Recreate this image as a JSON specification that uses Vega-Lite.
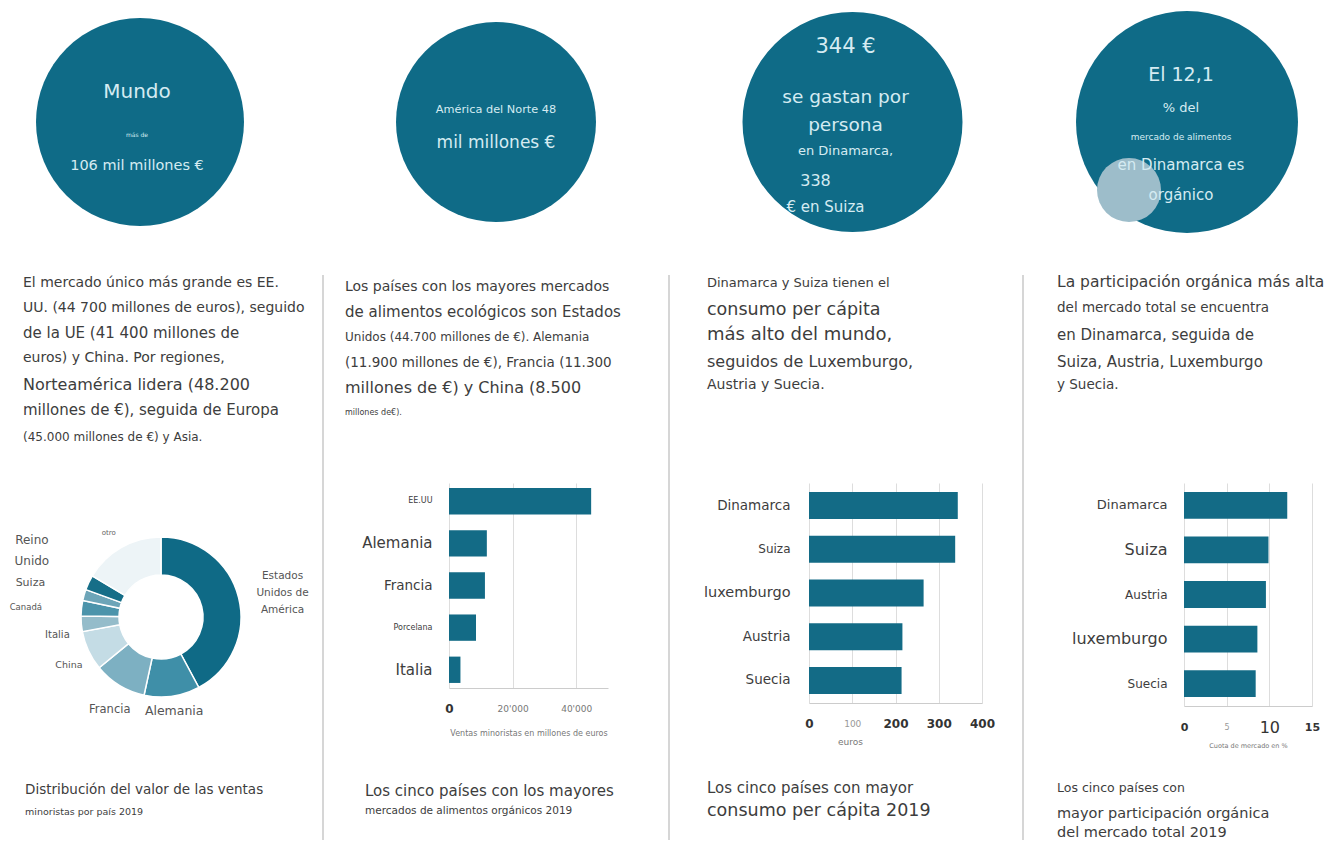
{
"$schema": "https://vega.github.io/schema/vega-lite/v6.json",
"background": "white",
"padding": 0,
"spacing": 0,
"config": {
  "view": {"stroke": null},
  "font": "DejaVu Sans",
  "text": {"font": "DejaVu Sans"},
  "axis": {"labelFont": "DejaVu Sans", "titleFont": "DejaVu Sans"},
  "title": {"font": "DejaVu Sans", "subtitleFont": "DejaVu Sans", "fontWeight": "normal", "subtitleFontWeight": "normal", "color": "#3d3d3d", "subtitleColor": "#3d3d3d"}
},
"hconcat": [
 {
  "spacing": 0, "bounds": "flush",
  "vconcat": [
   {
    "width": 280, "height": 244,
    "layer": [
     {"data": {"values": [{"region": "Mundo"}]},
      "mark": {"type": "point", "shape": "circle", "filled": true, "opacity": 1, "color": "#0f6b87", "size": 43264, "strokeWidth": 0}},
     {"data": {"values": [{"line": 1, "text": "Mundo"}, {"line": 2, "text": "más de"}, {"line": 3, "text": "106 mil millones €"}]},
      "mark": {"type": "text", "align": "center", "baseline": "middle", "color": "#d5ebf2", "dx": -3},
      "encoding": {
        "y": {"field": "line", "type": "quantitative", "scale": {"domain": [1, 2, 3], "range": [92, 135, 166]}, "axis": null},
        "text": {"field": "text", "type": "nominal"},
        "size": {"condition": [{"test": "datum.line === 1", "value": 20}, {"test": "datum.line === 2", "value": 6}], "value": 14.5}}}
    ]
   },
   {
    "width": 46, "height": 239,
    "data": {"values": [
      {"line": 1, "text": "El mercado único más grande es EE."},
      {"line": 2, "text": "UU. (44 700 millones de euros), seguido"},
      {"line": 3, "text": "de la UE (41 400 millones de"},
      {"line": 4, "text": "euros) y China. Por regiones,"},
      {"line": 5, "text": "Norteamérica lidera (48.200"},
      {"line": 6, "text": "millones de €), seguida de Europa"},
      {"line": 7, "text": "(45.000 millones de €) y Asia."}]},
    "mark": {"type": "text", "align": "left", "baseline": "middle", "color": "#3d3d3d"},
    "encoding": {
      "y": {"field": "line", "type": "quantitative", "scale": {"domain": [1, 2, 3, 4, 5, 6, 7], "range": [39, 64, 89, 114, 141, 166, 193]}, "axis": null},
      "text": {"field": "text", "type": "nominal"},
      "size": {"condition": [{"test": "datum.line === 3 || datum.line === 6", "value": 15}, {"test": "datum.line === 5", "value": 16}, {"test": "datum.line === 7", "value": 12}], "value": 14}}
   },
   {
    "width": 322, "height": 268,
    "title": {"text": "Distribución del valor de las ventas", "subtitle": "minoristas por país 2019", "orient": "bottom", "anchor": "start", "frame": "group", "dx": 25, "offset": 17, "fontSize": 13.5, "subtitleFontSize": 9.5, "subtitlePadding": 11},
    "data": {"values": [
      {"pais": "Estados Unidos de América", "etiqueta": "Estados\nUnidos de\nAmérica", "valor": 44.7, "orden": 1},
      {"pais": "Alemania", "etiqueta": "Alemania", "valor": 11.9, "orden": 2},
      {"pais": "Francia", "etiqueta": "Francia", "valor": 11.3, "orden": 3},
      {"pais": "China", "etiqueta": "China", "valor": 8.5, "orden": 4},
      {"pais": "Italia", "etiqueta": "Italia", "valor": 3.3, "orden": 5},
      {"pais": "Canadá", "etiqueta": "Canadá", "valor": 3.3, "orden": 6},
      {"pais": "Suiza", "etiqueta": "Suiza", "valor": 2.4, "orden": 7},
      {"pais": "Reino Unido", "etiqueta": "Reino\nUnido", "valor": 3.2, "orden": 8},
      {"pais": "otro", "etiqueta": "otro", "valor": 17.4, "orden": 9}]},
    "encoding": {
      "theta": {"field": "valor", "type": "quantitative", "stack": true},
      "order": {"field": "orden", "type": "quantitative"}},
    "layer": [
     {"mark": {"type": "arc", "innerRadius": 42, "outerRadius": 80, "stroke": "#ffffff", "strokeWidth": 1.5},
      "encoding": {"color": {"field": "pais", "type": "nominal", "legend": null,
        "scale": {"domain": ["Estados Unidos de América", "Alemania", "Francia", "China", "Italia", "Canadá", "Suiza", "Reino Unido", "otro"],
                  "range": ["#0f6a86", "#3f8fa8", "#7db0c2", "#c4dce5", "#94bcca", "#4c94ab", "#6da5b8", "#166e88", "#edf4f7"]}}}},
     {"mark": {"type": "text", "radius": 95, "align": "center", "baseline": "middle", "color": "#555555"},
      "encoding": {"text": {"condition": {"test": "datum.pais === 'Alemania'", "field": "etiqueta", "type": "nominal"}, "value": ""},
                   "size": {"value": 12.5}}},
     {"mark": {"type": "text", "radius": 106, "align": "center", "baseline": "middle", "color": "#555555", "dx": 4, "dy": 3},
      "encoding": {"text": {"condition": {"test": "datum.pais === 'Francia' || datum.pais === 'China'", "field": "etiqueta", "type": "nominal"}, "value": ""},
                   "size": {"condition": {"test": "datum.pais === 'Francia'", "value": 11.5}, "value": 9.5}}},
     {"mark": {"type": "text", "radius": 106, "align": "center", "baseline": "middle", "color": "#666666", "dy": 8},
      "encoding": {"text": {"condition": {"test": "datum.pais === 'otro'", "field": "etiqueta", "type": "nominal"}, "value": ""},
                   "size": {"value": 7}}},
     {"mark": {"type": "text", "radius": 114, "align": "center", "baseline": "middle", "color": "#555555", "lineBreak": "\n", "lineHeight": 17, "dx": 11, "dy": -13},
      "encoding": {"text": {"condition": {"test": "datum.pais === 'Estados Unidos de América'", "field": "etiqueta", "type": "nominal"}, "value": ""},
                   "size": {"value": 10.5}}},
     {"mark": {"type": "text", "radius": 114, "align": "center", "baseline": "middle", "color": "#555555", "dx": 10, "dy": 8},
      "encoding": {"text": {"condition": {"test": "datum.pais === 'Italia'", "field": "etiqueta", "type": "nominal"}, "value": ""},
                   "size": {"value": 10}}},
     {"mark": {"type": "text", "radius": 140, "align": "center", "baseline": "middle", "color": "#555555", "dx": 4, "dy": 5},
      "encoding": {"text": {"condition": {"test": "datum.pais === 'Canadá' || datum.pais === 'Suiza'", "field": "etiqueta", "type": "nominal"}, "value": ""},
                   "size": {"condition": {"test": "datum.pais === 'Canadá'", "value": 8.5}, "value": 11}}},
     {"mark": {"type": "text", "radius": 153, "align": "center", "baseline": "middle", "color": "#555555", "lineBreak": "\n", "lineHeight": 21, "dx": 9, "dy": -11},
      "encoding": {"text": {"condition": {"test": "datum.pais === 'Reino Unido'", "field": "etiqueta", "type": "nominal"}, "value": ""},
                   "size": {"value": 12}}}
    ]
   }
  ]
 },
 {
  "spacing": 0, "bounds": "flush",
  "vconcat": [
   {"width": 2, "height": 275, "data": {"values": []}, "mark": "point"},
   {"width": 2, "height": 565, "data": {"values": []}, "mark": "point", "view": {"fill": "#d6d6d6", "stroke": null}}
  ]
 },
 {
  "spacing": 0, "bounds": "flush",
  "vconcat": [
   {
    "width": 344, "height": 244,
    "layer": [
     {"data": {"values": [{"region": "América del Norte"}]},
      "mark": {"type": "point", "shape": "circle", "filled": true, "opacity": 1, "color": "#0f6b87", "size": 40000, "strokeWidth": 0}},
     {"data": {"values": [{"line": 1, "text": "América del Norte 48"}, {"line": 2, "text": "mil millones €"}]},
      "mark": {"type": "text", "align": "center", "baseline": "middle", "color": "#d5ebf2"},
      "encoding": {
        "y": {"field": "line", "type": "quantitative", "scale": {"domain": [1, 2], "range": [110, 143]}, "axis": null},
        "text": {"field": "text", "type": "nominal"},
        "size": {"condition": {"test": "datum.line === 1", "value": 11.3}, "value": 17}}}
    ]
   },
   {
    "width": 42, "height": 239,
    "data": {"values": [
      {"line": 1, "text": "Los países con los mayores mercados"},
      {"line": 2, "text": "de alimentos ecológicos son Estados"},
      {"line": 3, "text": "Unidos (44.700 millones de €). Alemania"},
      {"line": 4, "text": "(11.900 millones de €), Francia (11.300"},
      {"line": 5, "text": "millones de €) y China (8.500"},
      {"line": 6, "text": "millones de€)."}]},
    "mark": {"type": "text", "align": "left", "baseline": "middle", "color": "#3d3d3d"},
    "encoding": {
      "y": {"field": "line", "type": "quantitative", "scale": {"domain": [1, 2, 3, 4, 5, 6], "range": [43, 68, 93, 119, 144, 169]}, "axis": null},
      "text": {"field": "text", "type": "nominal"},
      "size": {"condition": [{"test": "datum.line === 1", "value": 14}, {"test": "datum.line === 2", "value": 15}, {"test": "datum.line === 3", "value": 12}, {"test": "datum.line === 4", "value": 13.5}, {"test": "datum.line === 5", "value": 16}], "value": 8}}
   },
   {
    "width": 344, "height": 205,
    "title": {"text": "Los cinco países con los mayores", "subtitle": "mercados de alimentos orgánicos 2019", "orient": "bottom", "anchor": "start", "frame": "group", "dx": 41, "offset": 47, "fontSize": 15, "subtitleFontSize": 10.5, "subtitlePadding": 7},
    "data": {"values": [
      {"pais": "EE.UU", "ventas": 44700},
      {"pais": "Alemania", "ventas": 11900},
      {"pais": "Francia", "ventas": 11300},
      {"pais": "Porcelana", "ventas": 8500},
      {"pais": "Italia", "ventas": 3600}]},
    "mark": {"type": "bar", "color": "#136b86"},
    "encoding": {
      "y": {"field": "pais", "type": "nominal", "sort": null, "scale": {"paddingInner": 0.375, "paddingOuter": 0.12},
        "axis": {"title": null, "domain": false, "ticks": false, "tickSize": 0, "grid": false, "labelPadding": -108, "labelColor": "#3d3d3d", "labelLimit": 0,
          "labelFontSize": {"condition": [{"test": "datum.value === 'Alemania' || datum.value === 'Italia'", "value": 15}, {"test": "datum.value === 'Francia'", "value": 13.5}], "value": 8}}},
      "x": {"field": "ventas", "type": "quantitative", "scale": {"domain": [0, 50000], "range": [125, 284], "nice": false},
        "axis": {"values": [0, 20000, 40000], "title": "Ventas minoristas en millones de euros", "titleFontSize": 8, "titleColor": "#777777", "titleFontWeight": "normal", "titlePadding": 15,
          "labelExpr": "replace(format(datum.value, ','), ',', \"'\")", "labelBaseline": "middle", "labelPadding": 20, "labelOverlap": false, "labelFlush": false,
          "ticks": false, "tickSize": 0, "domainColor": "#cccccc", "gridColor": "#dddddd",
          "labelColor": {"condition": {"test": "datum.value === 0", "value": "#333333"}, "value": "#777777"},
          "labelFontSize": {"condition": {"test": "datum.value === 0", "value": 12}, "value": 9},
          "labelFontWeight": {"condition": {"test": "datum.value === 0", "value": "bold"}, "value": "normal"}}}}
   }
  ]
 },
 {
  "spacing": 0, "bounds": "flush",
  "vconcat": [
   {"width": 15, "height": 275, "data": {"values": []}, "mark": "point"},
   {"width": 2, "height": 565, "data": {"values": []}, "mark": "point", "view": {"fill": "#d6d6d6", "stroke": null}}
  ]
 },
 {
  "spacing": 0, "bounds": "flush",
  "vconcat": [
   {
    "width": 339, "height": 244,
    "layer": [
     {"data": {"values": [{"region": "Dinamarca"}]},
      "mark": {"type": "point", "shape": "circle", "filled": true, "opacity": 1, "color": "#0f6b87", "size": 48400, "strokeWidth": 0}},
     {"data": {"values": [{"line": 1, "text": "344 €"}, {"line": 2, "text": "se gastan por"}, {"line": 3, "text": "persona"}, {"line": 4, "text": "en Dinamarca,"}, {"line": 5, "text": "338"}, {"line": 6, "text": "€ en Suiza"}]},
      "encoding": {
        "y": {"field": "line", "type": "quantitative", "scale": {"domain": [1, 2, 3, 4, 5, 6], "range": [47, 97, 125, 151, 181, 207]}, "axis": null},
        "text": {"field": "text", "type": "nominal"},
        "size": {"condition": [{"test": "datum.line === 1", "value": 21}, {"test": "datum.line === 2 || datum.line === 3", "value": 18.5}, {"test": "datum.line === 4", "value": 13}, {"test": "datum.line === 5", "value": 16}], "value": 15}},
      "layer": [
       {"transform": [{"filter": "datum.line <= 4"}], "mark": {"type": "text", "align": "center", "baseline": "middle", "color": "#d5ebf2", "dx": -7}},
       {"transform": [{"filter": "datum.line == 5"}], "mark": {"type": "text", "align": "center", "baseline": "middle", "color": "#d5ebf2", "dx": -37}},
       {"transform": [{"filter": "datum.line == 6"}], "mark": {"type": "text", "align": "center", "baseline": "middle", "color": "#d5ebf2", "dx": -27}}
      ]}
    ]
   },
   {
    "width": 48, "height": 239,
    "data": {"values": [
      {"line": 1, "text": "Dinamarca y Suiza tienen el"},
      {"line": 2, "text": "consumo per cápita"},
      {"line": 3, "text": "más alto del mundo,"},
      {"line": 4, "text": "seguidos de Luxemburgo,"},
      {"line": 5, "text": "Austria y Suecia."}]},
    "mark": {"type": "text", "align": "left", "baseline": "middle", "color": "#3d3d3d"},
    "encoding": {
      "y": {"field": "line", "type": "quantitative", "scale": {"domain": [1, 2, 3, 4, 5], "range": [39, 66, 91, 118, 141]}, "axis": null},
      "text": {"field": "text", "type": "nominal"},
      "size": {"condition": [{"test": "datum.line === 1", "value": 13}, {"test": "datum.line === 2", "value": 17.5}, {"test": "datum.line === 3", "value": 18}, {"test": "datum.line === 4", "value": 16}], "value": 14}}
   },
   {
    "width": 339, "height": 220,
    "title": {"text": "Los cinco países con mayor", "subtitle": "consumo per cápita 2019", "orient": "bottom", "anchor": "start", "frame": "group", "dx": 24, "offset": 35, "fontSize": 15, "subtitleFontSize": 17.5, "subtitlePadding": 6},
    "data": {"values": [
      {"pais": "Dinamarca", "euros": 344},
      {"pais": "Suiza", "euros": 338},
      {"pais": "luxemburgo", "euros": 265},
      {"pais": "Austria", "euros": 216},
      {"pais": "Suecia", "euros": 214}]},
    "mark": {"type": "bar", "color": "#136b86"},
    "encoding": {
      "y": {"field": "pais", "type": "nominal", "sort": null, "scale": {"paddingInner": 0.383, "paddingOuter": 0.206},
        "axis": {"title": null, "domain": false, "ticks": false, "tickSize": 0, "grid": false, "labelPadding": -107, "labelColor": "#3d3d3d", "labelLimit": 0,
          "labelFontSize": {"condition": [{"test": "datum.value === 'luxemburgo'", "value": 14.5}, {"test": "datum.value === 'Suiza'", "value": 12}], "value": 13.5}}},
      "x": {"field": "euros", "type": "quantitative", "scale": {"domain": [0, 400], "range": [126, 299], "nice": false},
        "axis": {"values": [0, 100, 200, 300, 400], "title": "euros", "titleFontSize": 9, "titleColor": "#777777", "titleFontWeight": "normal", "titlePadding": 8, "titleX": 167,
          "labelBaseline": "middle", "labelPadding": 20, "labelOverlap": false, "labelFlush": false,
          "ticks": false, "tickSize": 0, "domainColor": "#cccccc", "gridColor": "#dddddd",
          "labelColor": {"condition": {"test": "datum.value === 100", "value": "#999999"}, "value": "#333333"},
          "labelFontSize": {"condition": {"test": "datum.value === 100", "value": 9}, "value": 12},
          "labelFontWeight": {"condition": {"test": "datum.value === 100", "value": "normal"}, "value": "bold"}}}}
   }
  ]
 },
 {
  "spacing": 0, "bounds": "flush",
  "vconcat": [
   {"width": 12, "height": 275, "data": {"values": []}, "mark": "point"},
   {"width": 2, "height": 565, "data": {"values": []}, "mark": "point", "view": {"fill": "#d6d6d6", "stroke": null}}
  ]
 },
 {
  "spacing": 0, "bounds": "flush",
  "vconcat": [
   {
    "width": 306, "height": 244,
    "layer": [
     {"data": {"values": [{"region": "Dinamarca"}]},
      "mark": {"type": "point", "shape": "circle", "filled": true, "opacity": 1, "color": "#0f6b87", "size": 49284, "strokeWidth": 0}},
     {"data": {"values": [{"region": "Dinamarca"}]},
      "mark": {"type": "point", "shape": "circle", "filled": true, "opacity": 1, "color": "#9dbdca", "size": 4096, "strokeWidth": 0, "xOffset": -58, "yOffset": 68}},
     {"data": {"values": [{"line": 1, "text": "El 12,1"}, {"line": 2, "text": "% del"}, {"line": 3, "text": "mercado de alimentos"}, {"line": 4, "text": "en Dinamarca es"}, {"line": 5, "text": "orgánico"}]},
      "mark": {"type": "text", "align": "center", "baseline": "middle", "color": "#d5ebf2", "dx": -6},
      "encoding": {
        "y": {"field": "line", "type": "quantitative", "scale": {"domain": [1, 2, 3, 4, 5], "range": [75, 108, 137, 165, 195]}, "axis": null},
        "text": {"field": "text", "type": "nominal"},
        "size": {"condition": [{"test": "datum.line === 1", "value": 19}, {"test": "datum.line === 2", "value": 13}, {"test": "datum.line === 3", "value": 9}], "value": 15}}}
    ]
   },
   {
    "width": 46, "height": 239,
    "data": {"values": [
      {"line": 1, "text": "La participación orgánica más alta"},
      {"line": 2, "text": "del mercado total se encuentra"},
      {"line": 3, "text": "en Dinamarca, seguida de"},
      {"line": 4, "text": "Suiza, Austria, Luxemburgo"},
      {"line": 5, "text": "y Suecia."}]},
    "mark": {"type": "text", "align": "left", "baseline": "middle", "color": "#3d3d3d"},
    "encoding": {
      "y": {"field": "line", "type": "quantitative", "scale": {"domain": [1, 2, 3, 4, 5], "range": [38, 64, 91, 118, 141]}, "axis": null},
      "text": {"field": "text", "type": "nominal"},
      "size": {"condition": [{"test": "datum.line === 1", "value": 15.5}, {"test": "datum.line === 2 || datum.line === 5", "value": 13.5}], "value": 15}}
   },
   {
    "width": 306, "height": 223,
    "title": {"text": "Los cinco países con", "subtitle": ["mayor participación orgánica", "del mercado total 2019"], "orient": "bottom", "anchor": "start", "frame": "group", "dx": 23, "offset": 33, "fontSize": 12.5, "subtitleFontSize": 14.5, "subtitlePadding": 13, "subtitleLineHeight": 19},
    "data": {"values": [
      {"pais": "Dinamarca", "cuota": 12.1},
      {"pais": "Suiza", "cuota": 9.9},
      {"pais": "Austria", "cuota": 9.6},
      {"pais": "luxemburgo", "cuota": 8.6},
      {"pais": "Suecia", "cuota": 8.4}]},
    "mark": {"type": "bar", "color": "#136b86"},
    "encoding": {
      "y": {"field": "pais", "type": "nominal", "sort": null, "scale": {"paddingInner": 0.4, "paddingOuter": 0.2},
        "axis": {"title": null, "domain": false, "ticks": false, "tickSize": 0, "grid": false, "labelPadding": -133, "labelColor": "#3d3d3d", "labelLimit": 0,
          "labelFontSize": {"condition": [{"test": "datum.value === 'Suiza' || datum.value === 'luxemburgo'", "value": 16}, {"test": "datum.value === 'Dinamarca'", "value": 13}], "value": 12}}},
      "x": {"field": "cuota", "type": "quantitative", "scale": {"domain": [0, 15], "range": [150, 278], "nice": false},
        "axis": {"values": [0, 5, 10, 15], "title": "Cuota de mercado en %", "titleFontSize": 6.5, "titleColor": "#777777", "titleFontWeight": "normal", "titlePadding": 7,
          "labelBaseline": "middle", "labelPadding": 21, "labelOverlap": false, "labelFlush": false,
          "ticks": false, "tickSize": 0, "domainColor": "#cccccc", "gridColor": "#dddddd",
          "labelColor": {"condition": {"test": "datum.value === 5", "value": "#999999"}, "value": "#333333"},
          "labelFontSize": {"condition": [{"test": "datum.value === 10", "value": 16}, {"test": "datum.value === 5", "value": 8}], "value": 11},
          "labelFontWeight": {"condition": {"test": "datum.value === 10 || datum.value === 5", "value": "normal"}, "value": "bold"}}}}
   }
  ]
 }
]
}
